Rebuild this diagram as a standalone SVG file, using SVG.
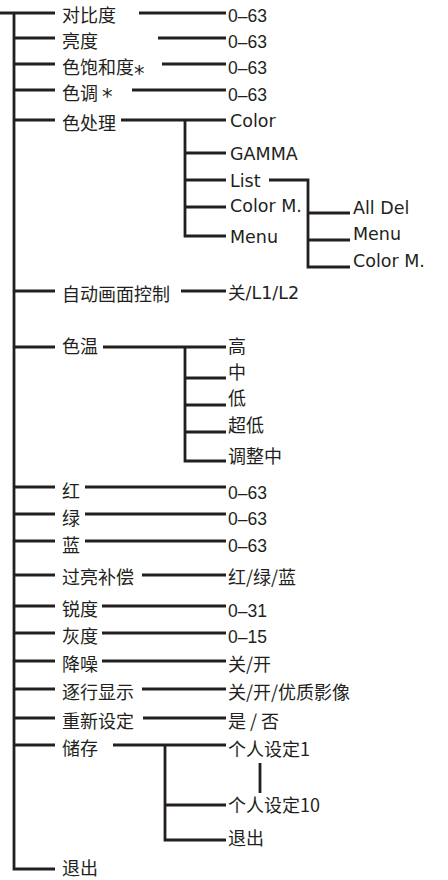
<svg xmlns="http://www.w3.org/2000/svg" width="448" height="880" viewBox="0 0 448 880">
<style>
.ln{stroke:#231f20;stroke-width:2.8;fill:none;stroke-linecap:butt}
.cj{font-family:"Noto Sans CJK SC",sans-serif;font-size:18px;fill:#231f20}
.nm{font-family:"Liberation Sans",Arial,sans-serif;font-size:17.5px;fill:#231f20}
.lt{font-family:"DejaVu Sans","Noto Sans CJK SC",sans-serif;font-size:17.5px;fill:#231f20}
.ast{font-family:"DejaVu Sans",sans-serif;font-size:21px}
</style>
<rect width="448" height="880" fill="#ffffff"/>
<g id="connectors">
<path class="ln" d="M0 13H55M14 13V869H55"/>
<path class="ln" d="M14 38H55M14 64H55M14 90H55M14 120H55M14 291H55M14 347H55M14 487H55M14 514H55M14 541H55M14 575H55M14 606H55M14 633H55M14 661H55M14 689H55M14 718H55M14 745H55"/>
<path class="ln" d="M139 13H226M158 38H226M162 64H226M132 90H226"/>
<path class="ln" d="M121 120H226M185 120V236H226M185 153H226M185 180H226M185 207H226"/>
<path class="ln" d="M269 180H308V267H350M308 213H350M308 240H350"/>
<path class="ln" d="M181 291H226"/>
<path class="ln" d="M103 347H226M185 347V461H226M185 378H226M185 405H226M185 432H226"/>
<path class="ln" d="M85 487H226M85 514H226M85 541H226M142 575H226M102 606H226M102 633H226M102 661H226M142 689H226M143 718H226"/>
<path class="ln" d="M113 745H226M165 745V840H226M165 805H226M260 763V793"/>
</g>
<g id="n-contrast"><text class="cj" x="62" y="22">对比度</text><text class="nm" x="228" y="22">0–63</text></g>
<g id="n-brightness"><text class="cj" x="62" y="48">亮度</text><text class="nm" x="228" y="48">0–63</text></g>
<g id="n-saturation"><text class="cj" x="62" y="74">色饱和度<tspan class="ast" dy="7">*</tspan></text><text class="nm" x="228" y="74">0–63</text></g>
<g id="n-tint"><text class="cj" x="62" y="100">色调 <tspan class="ast" dy="4">*</tspan></text><text class="nm" x="228" y="101">0–63</text></g>
<g id="n-colorproc"><text class="cj" x="62" y="130">色处理</text></g>
<g id="n-color"><text class="lt" x="230" y="127">Color</text></g>
<g id="n-gamma"><text class="lt" x="230" y="159.5">GAMMA</text></g>
<g id="n-list"><text class="lt" x="230" y="186.5">List</text></g>
<g id="n-colorm"><text class="lt" x="230" y="212">Color M.</text></g>
<g id="n-menu"><text class="lt" x="230" y="242.5">Menu</text></g>
<g id="n-alldel"><text class="lt" x="353" y="214">All Del</text></g>
<g id="n-menu2"><text class="lt" x="353" y="240">Menu</text></g>
<g id="n-colorm2"><text class="lt" x="353" y="267">Color M.</text></g>
<g id="n-auto"><text class="cj" x="62" y="300.5">自动画面控制</text><text class="lt" x="228" y="299">关/L1/L2</text></g>
<g id="n-temp"><text class="cj" x="62" y="353">色温</text></g>
<g id="n-high"><text class="cj" x="228" y="353">高</text></g>
<g id="n-mid"><text class="cj" x="228" y="379">中</text></g>
<g id="n-low"><text class="cj" x="228" y="405">低</text></g>
<g id="n-xlow"><text class="cj" x="228" y="432">超低</text></g>
<g id="n-adj"><text class="cj" x="228" y="463">调整中</text></g>
<g id="n-red"><text class="cj" x="62" y="498">红</text><text class="nm" x="228" y="498.5">0–63</text></g>
<g id="n-green"><text class="cj" x="62" y="524.5">绿</text><text class="nm" x="228" y="525">0–63</text></g>
<g id="n-blue"><text class="cj" x="62" y="551.5">蓝</text><text class="nm" x="228" y="551.5">0–63</text></g>
<g id="n-over"><text class="cj" x="62" y="584">过亮补偿</text><text class="cj" x="228" y="584">红/绿/蓝</text></g>
<g id="n-sharp"><text class="cj" x="62" y="616">锐度</text><text class="nm" x="228" y="616.5">0–31</text></g>
<g id="n-gray"><text class="cj" x="62" y="643">灰度</text><text class="nm" x="228" y="643">0–15</text></g>
<g id="n-nr"><text class="cj" x="62" y="671">降噪</text><text class="cj" x="228" y="671">关/开</text></g>
<g id="n-prog"><text class="cj" x="62" y="699">逐行显示</text><text class="cj" x="228" y="699">关/开/优质影像</text></g>
<g id="n-reset"><text class="cj" x="62" y="728">重新设定</text><text class="cj" x="228" y="728">是 / 否</text></g>
<g id="n-store"><text class="cj" x="62" y="755">储存</text></g>
<g id="n-p1"><text class="cj" x="228" y="756">个人设定1</text></g>
<g id="n-p10"><text class="cj" x="228" y="812">个人设定10</text></g>
<g id="n-exit2"><text class="cj" x="228" y="845">退出</text></g>
<g id="n-exit"><text class="cj" x="62" y="875">退出</text></g>
</svg>
